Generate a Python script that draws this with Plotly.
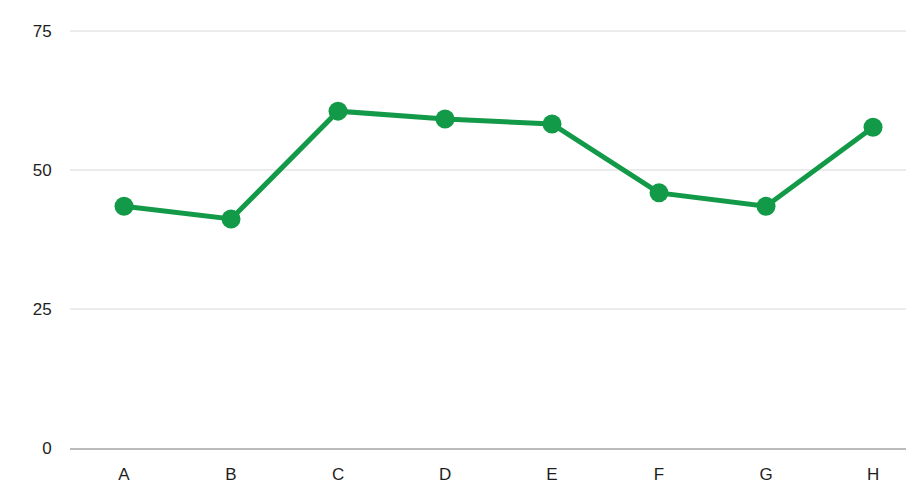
import plotly.graph_objects as go

categories = ["A", "B", "C", "D", "E", "F", "G", "H"]
values = [43.5, 41.2, 60.6, 59.2, 58.3, 45.9, 43.5, 57.7]
y_ticks = [0, 25, 50, 75]

green = "#139a48"

fig = go.Figure()
fig.add_trace(go.Scatter(
    x=list(range(len(categories))),
    y=values,
    mode="lines+markers",
    line=dict(color=green, width=5),
    marker=dict(color=green, size=19),
    hoverinfo="x+y",
    cliponaxis=False,
))

fig.update_layout(
    width=898,
    height=476,
    margin=dict(l=62, r=0, t=22, b=36),
    paper_bgcolor="white",
    plot_bgcolor="white",
    showlegend=False,
    font=dict(family="Arial, Liberation Sans, sans-serif", size=17, color="#1e1e1e"),
    xaxis=dict(
        tickmode="array",
        tickvals=list(range(len(categories))),
        ticktext=categories,
        range=[-0.505, 7.308],
        showgrid=False,
        zeroline=False,
        showline=True,
        linecolor="#bbbbbb",
        linewidth=1.5,
        ticks="outside",
        ticklen=10,
        tickcolor="rgba(0,0,0,0)",
    ),
    yaxis=dict(
        range=[0, 75.2],
        tickmode="array",
        tickvals=y_ticks,
        showgrid=True,
        gridcolor="#ebebeb",
        gridwidth=1.5,
        zeroline=False,
        ticks="outside",
        ticklen=14,
        tickcolor="rgba(0,0,0,0)",
    ),
)

fig.write_html("out.html")
